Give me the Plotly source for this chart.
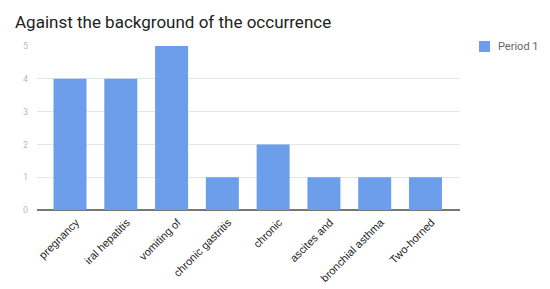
import plotly.graph_objects as go

categories = ["pregnancy", "iral hepatitis", "vomiting of", "chronic gastritis",
              "chronic", "ascites and", "bronchial asthma", "Two-horned"]
period1 = [4, 4, 5, 1, 2, 1, 1, 1]
series_name = "Period 1"
y_ticks = [0, 1, 2, 3, 4, 5]
bar_color = "#6d9eeb"

W, H = 550, 289
ML, MR, MT, MB = 37, 90, 46, 79

fig = go.Figure()
fig.add_trace(go.Bar(x=list(range(len(categories))), y=period1, name=series_name,
                     marker=dict(color=bar_color, line=dict(width=0))))

# manual legend (swatch + label) in pixel-derived paper coords
def px_x(p):
    return (p - ML) / (W - ML - MR)

def px_y(p):
    return (H - MB - p) / (H - MT - MB)

fig.add_shape(type="rect", xref="paper", yref="paper",
              x0=px_x(479), x1=px_x(490), y0=px_y(52), y1=px_y(41),
              fillcolor=bar_color, line=dict(width=0))
fig.add_annotation(text=series_name, xref="paper", yref="paper",
                   x=px_x(496), y=px_y(46.5), xanchor="left", yanchor="middle",
                   showarrow=False, font=dict(size=11, color="#666666"))

fig.update_layout(
    width=W, height=H,
    margin=dict(l=ML, r=MR, t=MT, b=MB),
    paper_bgcolor="white", plot_bgcolor="white",
    font=dict(family="Roboto, Arial, sans-serif"),
    title=dict(text="Against the background of the occurrence", x=15/W, xanchor="left",
               xref="container", yref="container",
               y=1-22/H, yanchor="middle", automargin=False,
               font=dict(size=17, color="#222222", family="Roboto, Arial, sans-serif")),
    bargap=0.35,
    showlegend=False,
    xaxis=dict(tickmode="array", tickvals=list(range(len(categories))), ticktext=categories,
               range=[-0.65, 7.68], tickangle=-45, showgrid=False, zeroline=False,
               showline=False, ticks="", automargin=False,
               ticklabelshift=6, ticklabelstandoff=3,
               tickfont=dict(size=11, color="#222222",
                             family="Liberation Sans, Arial, sans-serif")),
    yaxis=dict(range=[0, 5], tickvals=y_ticks, showgrid=True, gridcolor="#e5e5e5",
               gridwidth=1, zeroline=True, zerolinecolor="#777777", zerolinewidth=1.5,
               ticks="", automargin=False,
               tickfont=dict(size=9, color="#bbbbbb"), ticklabelstandoff=8),
)

fig.write_html("out.html", config={"displayModeBar": False},
               post_script="document.body.style.margin='0';document.body.style.overflow='hidden';")
